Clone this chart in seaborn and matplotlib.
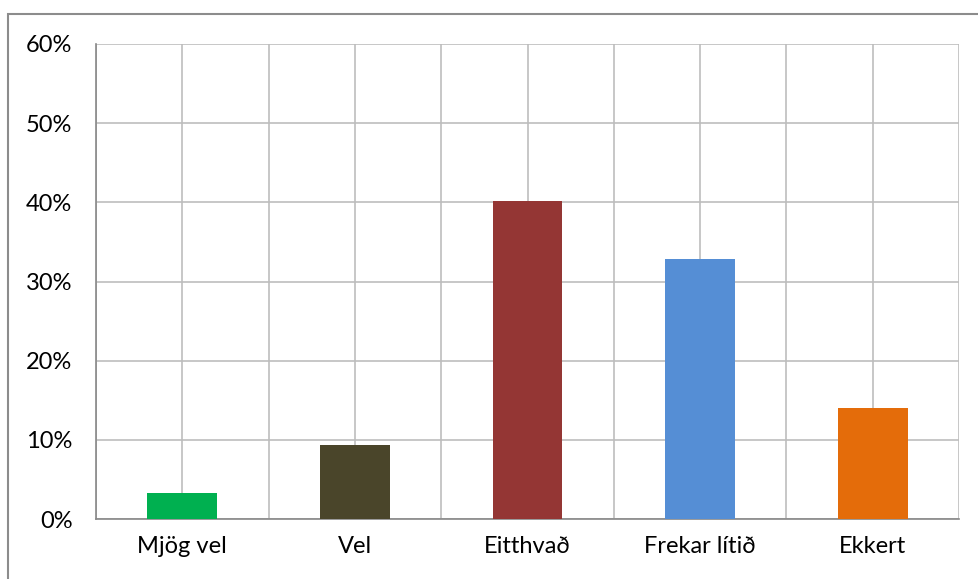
import matplotlib
matplotlib.use("Agg")
import matplotlib.pyplot as plt
from matplotlib.patches import Rectangle
from matplotlib.ticker import FixedLocator, PercentFormatter
import seaborn as sns
import pandas as pd

categories = ["Mjög vel", "Vel", "Eitthvað", "Frekar lítið", "Ekkert"]
values = [3.3, 9.3, 40.2, 32.8, 14.0]
colors = ["#00B050", "#4A452A", "#943634", "#558ED5", "#E46C0A"]

sns.set_theme(style="white")
plt.rcParams["font.family"] = ["Lato", "DejaVu Sans"]

data = pd.DataFrame({"cat": categories, "val": values})

fig = plt.figure(figsize=(9.79, 5.79), dpi=100)
ax = fig.add_axes([96 / 979, 1 - 519 / 579, (959 - 96) / 979, (519 - 44) / 579])

sns.barplot(data, x="cat", y="val", hue="cat", palette=colors, width=0.405,
            legend=False, saturation=1, linewidth=0, ax=ax, zorder=3)

ax.set_xlim(-0.5, 4.5)
ax.set_ylim(0, 60)
ax.set_yticks(range(0, 61, 10))
ax.yaxis.set_major_formatter(PercentFormatter(decimals=0))

# major ticks on category boundaries, labels at centres
ax.xaxis.set_major_locator(FixedLocator([i - 0.5 for i in range(6)]))
ax.xaxis.set_minor_locator(FixedLocator(range(5)))
ax.set_xticklabels([""] * 6)
ax.set_xticklabels(categories, minor=True)
ax.tick_params(axis="x", which="major", length=8, width=1.2, color="#888888", direction="out")
ax.tick_params(axis="x", which="minor", length=0, labelsize=17, pad=12, labelcolor="black")
ax.tick_params(axis="y", length=8, width=1.2, color="#888888", direction="out", labelsize=17,
               pad=9, labelcolor="black")
ax.set_xlabel("")
ax.set_ylabel("")

ax.grid(True, axis="both", which="major", color="#BDBDBD", linewidth=1.2, zorder=0)
ax.grid(True, axis="x", which="minor", color="#BDBDBD", linewidth=1.2, zorder=0)
ax.set_axisbelow(True)

for side in ["top", "right"]:
    ax.spines[side].set_visible(False)
for side in ["left", "bottom"]:
    ax.spines[side].set_color("#888888")
    ax.spines[side].set_linewidth(1.2)

fig.patches.append(Rectangle((8 / 979, -0.1), 1.2, 1.1 - 14 / 579, transform=fig.transFigure,
                             fill=False, edgecolor="#8C8C8C", linewidth=1.5))

fig.savefig("out.png", dpi=100)
